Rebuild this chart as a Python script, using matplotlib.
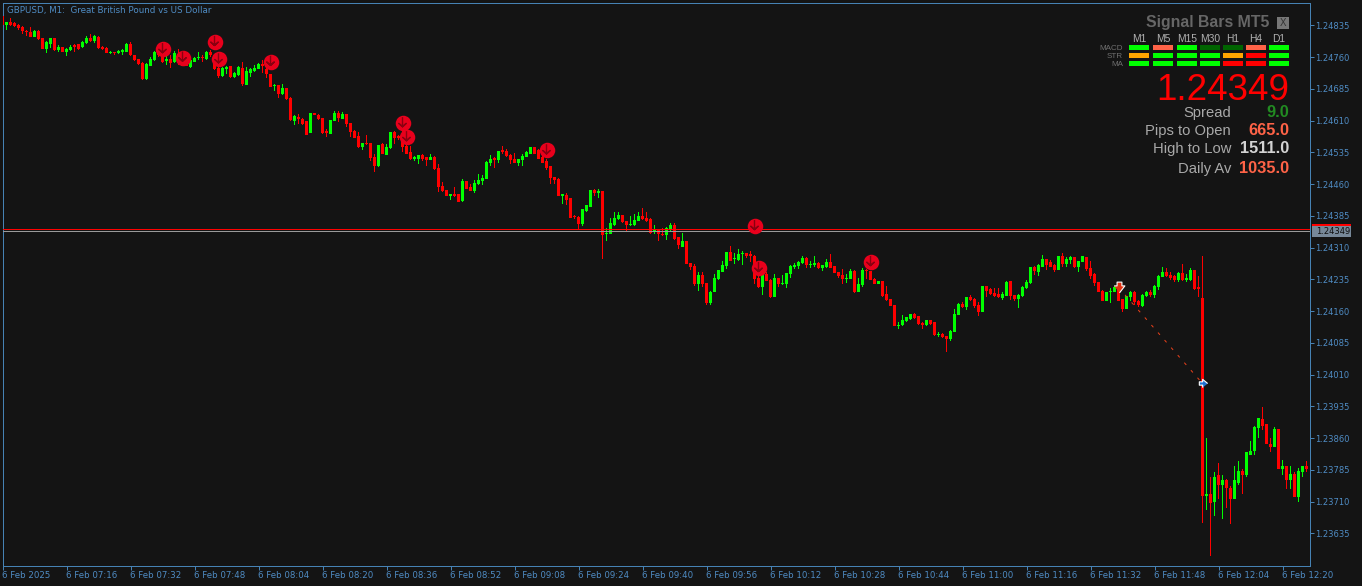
#!/usr/bin/env python3
# GBPUSD M1 chart with the Signal Bars panel

import numpy as np
import matplotlib
matplotlib.use('Agg')
import matplotlib.pyplot as plt
from matplotlib.patches import Rectangle

# all prices are in points above 1.23000
base_price = 1.23

opens = [
    1856,1835,1844,1841,1837,1830,1821,1819,1808,1822,
    1804,1779,1792,1804,1776,1783,1772,1777,1789,1790,
    1783,1793,1805,1798,1808,1784,1782,1770,1771,1770,
    1771,1773,1790,1764,1755,1745,1709,1739,1753,1771,
    1764,1750,1756,1748,1768,1749,1747,1737,1749,1757,
    1760,1755,1772,1764,1734,1716,1733,1738,1712,1717,
    1735,1694,1723,1727,1733,1742,1733,1719,1691,1693,
    1672,1687,1664,1610,1619,1613,1608,1580,1627,1624,
    1616,1585,1578,1610,1628,1613,1625,1604,1586,1573,
    1547,1556,1556,1523,1502,1554,1529,1545,1584,1572,
    1572,1551,1535,1520,1519,1528,1523,1517,1525,1497,
    1455,1445,1433,1436,1437,1419,1467,1454,1443,1461,
    1467,1472,1509,1519,1517,1540,1538,1529,1519,1510,
    1517,1524,1532,1547,1540,1525,1515,1502,1476,1473,
    1433,1434,1427,1384,1382,1365,1397,1406,1447,1440,
    1444,1341,1342,1364,1378,1387,1373,1363,1363,1373,
    1385,1379,1378,1349,1353,1342,1340,1354,1363,1334,
    1312,1326,1274,1267,1224,1246,1227,1179,1205,1235,
    1253,1266,1300,1282,1281,1294,1297,1295,1291,1239,
    1217,1248,1234,1194,1238,1223,1224,1248,1264,1267,
    1274,1286,1269,1269,1274,1262,1264,1276,1266,1253,
    1246,1236,1236,1255,1205,1222,1257,1255,1236,1224,
    1231,1201,1189,1175,1125,1127,1136,1142,1154,1149,
    1132,1127,1139,1134,1104,1106,1102,1095,1111,1151,
    1177,1170,1194,1189,1175,1158,1220,1213,1203,1201,
    1191,1196,1231,1198,1189,1196,1214,1226,1264,1253,
    1264,1283,1275,1269,1257,1290,1272,1281,1288,1264,
    1276,1288,1262,1247,1229,1208,1184,1205,1205,1214,
    1189,1165,1194,1205,1184,1172,1196,1205,1198,1217,
    1241,1253,1246,1243,1234,1250,1234,1234,1257,1215,
    1191,723,727,710,772,748,762,743,715,755,
    783,772,821,830,885,906,894,847,839,882,
    788,793,760,776,722,781,795,
]
highs = [
    1856,1844,1853,1843,1839,1834,1825,1831,1823,1823,
    1806,1797,1805,1805,1789,1784,1782,1789,1790,1792,
    1797,1811,1814,1812,1809,1786,1783,1774,1772,1776,
    1780,1794,1795,1764,1755,1749,1745,1760,1774,1792,
    1768,1764,1764,1775,1778,1764,1753,1754,1760,1771,
    1764,1774,1776,1768,1737,1737,1740,1740,1724,1739,
    1748,1737,1734,1741,1746,1753,1745,1721,1696,1694,
    1697,1688,1665,1623,1626,1617,1609,1628,1628,1625,
    1617,1591,1611,1633,1632,1630,1625,1605,1588,1584,
    1558,1576,1558,1530,1552,1556,1554,1583,1585,1576,
    1599,1552,1550,1527,1528,1532,1524,1530,1526,1507,
    1465,1446,1437,1453,1437,1472,1468,1460,1470,1484,
    1481,1514,1529,1525,1539,1550,1544,1532,1534,1519,
    1530,1538,1548,1548,1544,1540,1520,1503,1477,1474,
    1434,1439,1428,1388,1385,1402,1411,1447,1448,1448,
    1444,1356,1380,1394,1394,1387,1373,1385,1389,1394,
    1404,1394,1379,1364,1353,1356,1358,1368,1367,1335,
    1345,1326,1274,1272,1253,1253,1227,1208,1248,1257,
    1279,1300,1314,1297,1307,1302,1298,1301,1293,1261,
    1250,1253,1235,1248,1238,1246,1250,1269,1274,1279,
    1290,1288,1279,1290,1276,1269,1283,1295,1267,1253,
    1260,1248,1260,1257,1238,1262,1260,1255,1238,1231,
    1232,1220,1189,1175,1135,1151,1147,1154,1156,1149,
    1135,1139,1139,1135,1111,1109,1102,1116,1165,1180,
    1182,1194,1198,1191,1182,1220,1220,1214,1214,1214,
    1205,1231,1231,1198,1201,1220,1234,1264,1267,1272,
    1293,1283,1281,1272,1290,1297,1288,1290,1288,1279,
    1291,1288,1279,1250,1229,1210,1205,1215,1220,1222,
    1189,1196,1208,1208,1187,1201,1208,1210,1222,1246,
    1264,1262,1253,1246,1253,1272,1248,1262,1257,1243,
    1290,861,769,781,802,772,764,746,795,807,
    786,828,854,889,908,934,894,861,887,882,
    809,795,795,779,790,795,805,
]
lows = [
    1835,1823,1833,1830,1823,1815,1809,1808,1808,1801,
    1778,1770,1782,1775,1772,1771,1763,1775,1772,1776,
    1782,1791,1795,1793,1780,1777,1769,1768,1764,1768,
    1764,1771,1762,1750,1741,1705,1707,1738,1751,1760,
    1745,1742,1734,1747,1741,1738,1738,1735,1748,1754,
    1748,1754,1760,1730,1711,1714,1721,1711,1710,1716,
    1691,1693,1713,1725,1731,1723,1711,1689,1680,1664,
    1670,1658,1609,1599,1603,1600,1576,1580,1623,1611,
    1578,1571,1578,1609,1607,1613,1595,1572,1569,1545,
    1540,1552,1515,1489,1500,1530,1529,1544,1554,1565,
    1536,1531,1518,1514,1507,1515,1503,1516,1493,1442,
    1442,1432,1422,1430,1418,1418,1448,1443,1439,1459,
    1458,1471,1503,1499,1510,1532,1525,1507,1509,1503,
    1503,1523,1532,1532,1519,1510,1493,1460,1460,1432,
    1413,1411,1380,1377,1353,1361,1395,1406,1432,1426,
    1283,1326,1342,1362,1375,1369,1349,1362,1361,1372,
    1375,1370,1342,1341,1326,1338,1328,1348,1329,1307,
    1311,1272,1257,1220,1208,1216,1175,1175,1205,1234,
    1253,1260,1278,1272,1279,1269,1286,1276,1224,1215,
    1198,1230,1191,1194,1216,1221,1215,1238,1260,1260,
    1272,1262,1262,1264,1260,1255,1261,1261,1249,1237,
    1224,1227,1235,1203,1205,1217,1236,1234,1224,1224,
    1194,1184,1172,1125,1118,1124,1135,1139,1142,1126,
    1118,1125,1128,1102,1099,1097,1064,1090,1111,1151,
    1168,1163,1184,1168,1149,1158,1194,1198,1194,1192,
    1186,1195,1187,1184,1168,1194,1212,1224,1246,1243,
    1264,1257,1263,1253,1256,1264,1264,1272,1262,1253,
    1276,1255,1235,1220,1205,1183,1184,1180,1205,1184,
    1158,1165,1184,1175,1169,1170,1194,1194,1191,1210,
    1241,1241,1234,1229,1229,1231,1229,1231,1210,1194,
    660,691,581,677,715,670,694,658,715,748,
    729,767,819,821,861,880,845,828,838,786,
    772,739,739,722,708,769,781,
]
closes = [
    1836,1844,1837,1833,1828,1821,1819,1808,1821,1803,
    1779,1796,1804,1776,1783,1772,1779,1785,1784,1780,
    1796,1805,1797,1809,1782,1779,1770,1772,1769,1775,
    1776,1791,1764,1753,1743,1709,1743,1756,1771,1764,
    1749,1755,1747,1770,1745,1739,1739,1752,1759,1759,
    1757,1772,1764,1731,1716,1735,1734,1712,1723,1737,
    1696,1726,1733,1734,1744,1740,1721,1690,1693,1672,
    1687,1660,1611,1620,1613,1602,1577,1627,1624,1614,
    1580,1580,1611,1627,1615,1625,1603,1584,1570,1547,
    1556,1554,1521,1503,1552,1531,1547,1583,1568,1570,
    1547,1532,1519,1521,1528,1519,1517,1523,1496,1453,
    1444,1432,1437,1433,1418,1467,1449,1444,1463,1470,
    1475,1512,1519,1518,1538,1535,1526,1516,1510,1519,
    1527,1536,1547,1532,1520,1511,1497,1475,1470,1432,
    1434,1422,1380,1382,1366,1401,1411,1446,1438,1444,
    1340,1343,1368,1380,1387,1371,1363,1365,1375,1385,
    1377,1374,1345,1352,1341,1339,1356,1363,1330,1315,
    1326,1272,1264,1224,1246,1224,1179,1205,1238,1256,
    1269,1300,1279,1283,1295,1298,1290,1290,1236,1217,
    1248,1231,1193,1238,1224,1226,1250,1267,1269,1276,
    1286,1268,1271,1273,1262,1269,1276,1262,1250,1243,
    1236,1238,1255,1205,1224,1257,1255,1234,1224,1231,
    1196,1187,1172,1125,1128,1139,1147,1153,1144,1130,
    1128,1139,1130,1104,1106,1099,1095,1114,1154,1177,
    1170,1194,1187,1172,1158,1220,1207,1201,1195,1194,
    1201,1229,1196,1189,1198,1217,1229,1264,1255,1268,
    1283,1269,1264,1257,1290,1272,1283,1288,1264,1279,
    1289,1259,1243,1226,1205,1184,1205,1208,1218,1184,
    1165,1196,1205,1182,1175,1198,1205,1198,1220,1243,
    1253,1242,1239,1234,1250,1234,1239,1257,1213,1213,
    724,727,706,767,750,762,741,715,760,783,
    772,826,830,887,908,889,845,840,882,788,
    793,760,776,722,783,795,788,
]

# signal arrows: bar index and price in points
signal_bars = [40, 45, 53, 54, 67, 100, 101, 136, 188, 189, 217]
signal_prices = [1779, 1759, 1796, 1755, 1749, 1604, 1571, 1540, 1361, 1262, 1276]

# trade: entry and exit
trade_bars = [279, 300]
trade_prices = [1216, 989]

ask_price = 1353
bid_price = 1349

y_ticks = [1.24835, 1.24760, 1.24685, 1.24610, 1.24535, 1.24460, 1.24385, 1.24310, 1.24235,
           1.24160, 1.24085, 1.24010, 1.23935, 1.23860, 1.23785, 1.23710, 1.23635]
x_labels = ['6 Feb 2025', '6 Feb 07:16', '6 Feb 07:32', '6 Feb 07:48', '6 Feb 08:04', '6 Feb 08:20',
            '6 Feb 08:36', '6 Feb 08:52', '6 Feb 09:08', '6 Feb 09:24', '6 Feb 09:40', '6 Feb 09:56',
            '6 Feb 10:12', '6 Feb 10:28', '6 Feb 10:44', '6 Feb 11:00', '6 Feb 11:16', '6 Feb 11:32',
            '6 Feb 11:48', '6 Feb 12:04', '6 Feb 12:20']

# panel contents
timeframes = ['M1', 'M5', 'M15', 'M30', 'H1', 'H4', 'D1']
signal_rows = ['MACD', 'STR', 'MA']
macd_colors = ['lime', 'tomato', 'lime', 'darkgreen', 'darkgreen', 'tomato', 'lime']
str_colors = ['orange', 'lime', 'lime', 'lime', 'orange', 'red', 'lime']
ma_colors = ['lime', 'lime', 'lime', 'lime', 'red', 'red', 'lime']
stat_names = ['Spread', 'Pips to Open', 'High to Low', 'Daily Av']
stat_values = ['9.0', '665.0', '1511.0', '1035.0']
stat_colors = ['forestgreen', 'tomato', 'lightgray', 'tomato']

W, H = 1362, 586
bg = '#141414'
blue = '#4682b4'
text_blue = '#4f8cc4'


def prices(points):
    return base_price + np.asarray(points) / 1e5


def fx(px):
    return px / W


def fy(py):
    return 1 - py / H


fig = plt.figure(figsize=(W / 100, H / 100), dpi=100, facecolor=bg)
ax = fig.add_axes([fx(2.5), fy(565.5), fx(1307), 563 / H], facecolor=bg)

x = np.arange(len(opens))
o, h, l, c = prices(opens), prices(highs), prices(lows), prices(closes)
colors = np.where(c >= o, 'lime', 'red')

# candles: wick then body
ax.bar(x, h - l, bottom=l, width=0.3, color=colors, linewidth=0, zorder=2)
ax.bar(x, np.maximum(np.abs(c - o), 3e-5), bottom=np.minimum(o, c), width=0.8, color=colors,
       linewidth=0, zorder=3)

# bid / ask
ax.axhline(prices(ask_price), color='red', linewidth=0.72, antialiased=False, zorder=4)
ax.axhline(prices(bid_price), color='#9a9a9a', linewidth=0.72, antialiased=False, zorder=4)

# signal markers
shaft = [(0, 1), (0, -0.6), (-0.6, -0.05), (0, -0.6), (0.6, -0.05), (0, -0.6)]
ax.scatter(signal_bars, prices(signal_prices), s=125, color='#e8001c', linewidths=0, zorder=5)
ax.scatter(signal_bars, prices(signal_prices), s=75, marker=shaft, facecolors='none',
           edgecolors='#8a0010', linewidths=1.0, zorder=6)

# trade line and its arrows
ax.plot(trade_bars, prices(trade_prices), color='#e8401a', linewidth=0.72,
        linestyle=(0, (3, 7)), zorder=6)
down_arrow = [(-1, 0.3), (-0.45, 0.3), (-0.45, 1), (0.45, 1), (0.45, 0.3), (1, 0.3), (0, -1)]
left_arrow = [(1, 0), (-0.2, 1), (-0.2, 0.4), (-1, 0.4), (-1, -0.4), (-0.2, -0.4), (-0.2, -1)]
ax.scatter(trade_bars[0], prices(trade_prices[0]), s=60, marker=down_arrow, color='#e03010',
           edgecolors='white', linewidths=0.8, zorder=7)
ax.scatter(trade_bars[1], prices(trade_prices[1]), s=36, marker=left_arrow, color='#1e6fd0',
           edgecolors='white', linewidths=0.8, zorder=7)

# axes
ax.set_xlim(0, 326.75)
ax.set_ylim(1.23559, 1.24889)
for side in ['top', 'bottom', 'left', 'right']:
    ax.spines[side].set_color(blue)
    ax.spines[side].set_linewidth(0.72)
ax.yaxis.tick_right()
ax.set_yticks(y_ticks)
ax.set_yticklabels(['%.5f' % t for t in y_ticks])
ax.set_xticks(np.arange(len(x_labels)) * 16)
ax.set_xticklabels(x_labels, ha='left')
ax.tick_params(axis='both', colors=blue, labelcolor=text_blue, length=2.9, width=0.72)
ax.tick_params(axis='y', labelsize=6, pad=1.4)
ax.tick_params(axis='x', labelsize=6.2, pad=0.8)

ax.text(0.0035, 0.9865, 'GBPUSD, M1:  Great British Pound vs US Dollar', transform=ax.transAxes,
        color=text_blue, fontsize=6.3, va='center', ha='left')

# price tag on the scale
fig.add_artist(Rectangle((fx(1312), fy(226)), 39 / W, 2 / H, transform=fig.transFigure, color='red', lw=0))
fig.add_artist(Rectangle((fx(1312), fy(237)), 39 / W, 11 / H, transform=fig.transFigure,
                         color='lightslategray', lw=0))
fig.text(fx(1316), fy(231.5), '%.5f' % prices(bid_price), color='#101010', fontsize=6, va='center', ha='left')

# panel
sans = 'Liberation Sans'
fig.text(fx(1269), fy(22), 'Signal Bars MT5', color='#666666', fontsize=11.4, fontweight='bold',
         family=sans, ha='right', va='center')
fig.add_artist(Rectangle((fx(1277), fy(29)), 12 / W, 12 / H, transform=fig.transFigure,
                         color='#777777', lw=0))
fig.text(fx(1283), fy(23), 'X', color='#333333', fontsize=7, family=sans, ha='center', va='center')

cell_left = [1129, 1153, 1177, 1200, 1223, 1246, 1269]
row_top = [45, 53, 61]
for i, tf in enumerate(timeframes):
    fig.text(fx(cell_left[i] + 10), fy(38.5), tf, color='#b0b0b0', fontsize=7.4, family=sans,
             ha='center', va='center')
for row, name, cols in zip(row_top, signal_rows, [macd_colors, str_colors, ma_colors]):
    fig.text(fx(1123), fy(row + 3), name, color='#707070', fontsize=5.8, family=sans,
             ha='right', va='center')
    for left, col in zip(cell_left, cols):
        fig.add_artist(Rectangle((fx(left), fy(row + 5)), 20 / W, 5 / H, transform=fig.transFigure,
                                 color=col, lw=0))

fig.text(fx(1289), fy(100), '%.5f' % prices(bid_price), color='red', fontsize=26.5, family=sans,
         ha='right', va='baseline')

stat_y = [112.5, 130.5, 148.5, 168.5]
for y, name, val, col in zip(stat_y, stat_names, stat_values, stat_colors):
    fig.text(fx(1231), fy(y), name, color='#a9a9a9', fontsize=10.6, family=sans, ha='right', va='center')
    fig.text(fx(1289), fy(y), val, color=col, fontsize=11.8, fontweight='bold', family=sans,
             ha='right', va='center')

plt.savefig('out.png', dpi=100, facecolor=bg)
